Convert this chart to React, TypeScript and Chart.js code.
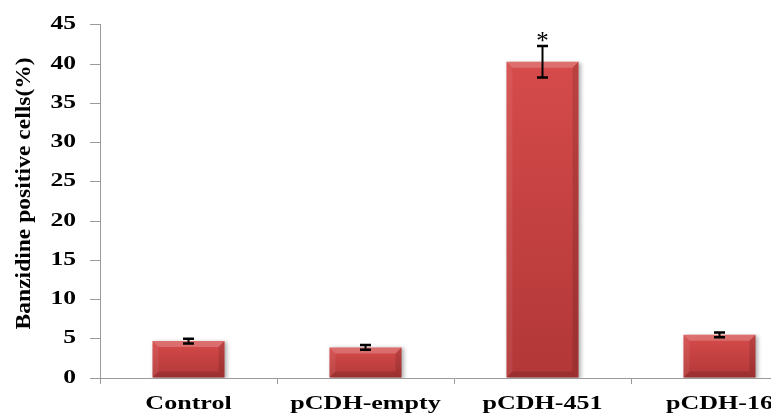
import React, { useEffect, useRef } from 'react';
import { Chart, registerables } from 'chart.js';

Chart.register(...registerables);

const categories = ['Control', 'pCDH-empty', 'pCDH-451', 'pCDH-16'];
const values = [4.7, 3.9, 40.3, 5.5];
const errors = [0.3, 0.3, 2.0, 0.3];
const significance = ['', '', '*', ''];
const yMin = 0;
const yMax = 45;
const yStep = 5;
const yTitle = 'Banzidine positive cells(%)';

const FONT = "'Liberation Serif', 'Times New Roman', serif";
const AXIS_GRAY = '#9a9a9a';

// Wide-glyph text: scale glyphs horizontally (in the text's own frame) when drawn.
function patchCtx(ctx: any) {
  if (ctx.__patched) return;
  const orig = ctx.fillText;
  ctx.__sx = 1;
  ctx.fillText = function (text: string, x: number, y: number, maxWidth?: number) {
    const sx = ctx.__sx || 1;
    if (sx === 1) {
      return maxWidth === undefined ? orig.call(ctx, text, x, y) : orig.call(ctx, text, x, y, maxWidth);
    }
    ctx.save();
    ctx.translate(x, y);
    ctx.scale(sx, 1);
    if (maxWidth === undefined) orig.call(ctx, text, 0, 0);
    else orig.call(ctx, text, 0, 0, maxWidth / sx);
    ctx.restore();
  };
  ctx.__patched = true;
}

function wrap(scale: any, method: string, sx: number, dy = 0, dx = 0) {
  const key = '__w_' + method;
  if (scale[key]) return;
  const orig = scale[method];
  scale[method] = function (...args: any[]) {
    const c = this.ctx;
    const prev = c.__sx || 1;
    c.save();
    c.translate(dx, dy);
    c.__sx = sx;
    orig.apply(this, args);
    c.__sx = prev;
    c.restore();
  };
  scale[key] = true;
}

const textPlugin = {
  id: 'wideText',
  afterLayout(chart: any) {
    patchCtx(chart.ctx);
    if (chart.scales.x) wrap(chart.scales.x, 'drawLabels', 1.37);
    if (chart.scales.y) {
      wrap(chart.scales.y, 'drawLabels', 1.42);
      wrap(chart.scales.y, 'drawTitle', 1.07, -8, 0);
    }
  },
  beforeDraw(chart: any) {
    patchCtx(chart.ctx);
  },
};

const barStylePlugin = {
  id: 'barStyle',
  beforeDatasetsDraw(chart: any) {
    const ctx = chart.ctx;
    ctx.save();
    ctx.shadowColor = 'rgba(0,0,0,0.3)';
    ctx.shadowBlur = 4;
    ctx.shadowOffsetX = 2;
    ctx.shadowOffsetY = 1;
  },
  afterDatasetsDraw(chart: any) {
    const ctx = chart.ctx;
    ctx.restore();
    ctx.save();
    const meta = chart.getDatasetMeta(0);
    const ys = chart.scales.y;
    meta.data.forEach((bar: any, i: number) => {
      const { x, y, base, width } = bar.getProps(['x', 'y', 'base', 'width'], true);
      const l = x - width / 2;
      const r = x + width / 2;
      const t = Math.min(y, base);
      const b = Math.max(y, base);
      const d = Math.min(6, (b - t) / 3);
      ctx.fillStyle = 'rgba(255,255,255,0.2)';
      ctx.beginPath();
      ctx.moveTo(l, t);
      ctx.lineTo(r, t);
      ctx.lineTo(r - d, t + d);
      ctx.lineTo(l + d, t + d);
      ctx.closePath();
      ctx.fill();
      ctx.fillStyle = 'rgba(255,255,255,0.07)';
      ctx.beginPath();
      ctx.moveTo(l, t);
      ctx.lineTo(l + d, t + d);
      ctx.lineTo(l + d, b - d);
      ctx.lineTo(l, b);
      ctx.closePath();
      ctx.fill();
      ctx.fillStyle = 'rgba(0,0,0,0.12)';
      ctx.beginPath();
      ctx.moveTo(r, t);
      ctx.lineTo(r - d, t + d);
      ctx.lineTo(r - d, b - d);
      ctx.lineTo(r, b);
      ctx.closePath();
      ctx.fill();
      ctx.fillStyle = 'rgba(0,0,0,0.13)';
      ctx.beginPath();
      ctx.moveTo(l, b);
      ctx.lineTo(r, b);
      ctx.lineTo(r - d, b - d);
      ctx.lineTo(l + d, b - d);
      ctx.closePath();
      ctx.fill();

      const yh = ys.getPixelForValue(values[i] + errors[i]);
      const yl = ys.getPixelForValue(values[i] - errors[i]);
      const cap = 5.5;
      ctx.strokeStyle = '#000';
      ctx.lineWidth = 2;
      ctx.beginPath();
      ctx.moveTo(x, yh);
      ctx.lineTo(x, yl);
      ctx.stroke();
      ctx.lineWidth = 2.5;
      ctx.beginPath();
      ctx.moveTo(x - cap, yh);
      ctx.lineTo(x + cap, yh);
      ctx.moveTo(x - cap, yl);
      ctx.lineTo(x + cap, yl);
      ctx.stroke();

      if (significance[i]) {
        ctx.__sx = 1;
        ctx.fillStyle = '#000';
        ctx.font = `25px ${FONT}`;
        ctx.textAlign = 'center';
        ctx.textBaseline = 'alphabetic';
        ctx.fillText(significance[i], x, yh + 3);
      }
    });
    ctx.restore();
  },
};

export default function App() {
  const ref = useRef<HTMLCanvasElement>(null);

  useEffect(() => {
    const canvas = ref.current;
    if (!canvas) return;
    const chart = new Chart(canvas, {
      type: 'bar',
      data: {
        labels: categories,
        datasets: [
          {
            data: values,
            barPercentage: 0.407,
            categoryPercentage: 1,
            borderWidth: 0,
            backgroundColor: (c: any) => {
              const ch = c.chart;
              if (!ch.chartArea || c.dataIndex === undefined || !ch.scales.y) return '#C43F3F';
              const ys = ch.scales.y;
              const top = ys.getPixelForValue(values[c.dataIndex]);
              const bottom = ys.getPixelForValue(0);
              if (!isFinite(top) || !isFinite(bottom) || top === bottom) return '#C43F3F';
              const g = ch.ctx.createLinearGradient(0, top, 0, bottom);
              g.addColorStop(0, '#D64B4B');
              g.addColorStop(1, '#B23737');
              return g;
            },
          },
        ],
      },
      options: {
        animation: false,
        responsive: true,
        maintainAspectRatio: false,
        layout: { padding: { left: 0, right: 12, top: 23, bottom: 0 } },
        plugins: {
          legend: { display: false },
          tooltip: { enabled: false },
        },
        scales: {
          x: {
            grid: {
              display: true,
              drawOnChartArea: false,
              drawTicks: true,
              tickLength: 6,
              color: AXIS_GRAY,
              offset: true,
            },
            border: { display: true, color: AXIS_GRAY },
            ticks: {
              color: '#000',
              font: { family: FONT, size: 19, weight: 'bold' },
              padding: 9,
              maxRotation: 0,
              autoSkip: false,
            },
            afterFit: (s: any) => {
              s.height = 36;
            },
          },
          y: {
            min: yMin,
            max: yMax,
            grid: {
              display: true,
              drawOnChartArea: false,
              drawTicks: true,
              tickLength: 10,
              color: AXIS_GRAY,
            },
            border: { display: true, color: AXIS_GRAY },
            ticks: {
              stepSize: yStep,
              color: '#000',
              font: { family: FONT, size: 18, weight: 'bold' },
              padding: 14,
            },
            title: {
              display: true,
              text: yTitle,
              color: '#000',
              font: { family: FONT, size: 22, weight: 'bold' },
              padding: { top: 11, bottom: 0 },
            },
            afterFit: (s: any) => {
              s.width = 100;
            },
          },
        },
      },
      plugins: [textPlugin, barStylePlugin],
    } as any);
    return () => chart.destroy();
  }, []);

  return (
    <div
      style={{
        position: 'fixed',
        left: 0,
        top: 0,
        width: 771,
        height: 414,
        overflow: 'hidden',
        background: '#fff',
      }}
    >
      <div style={{ position: 'relative', width: 820, height: 414 }}>
        <canvas ref={ref} />
      </div>
    </div>
  );
}
